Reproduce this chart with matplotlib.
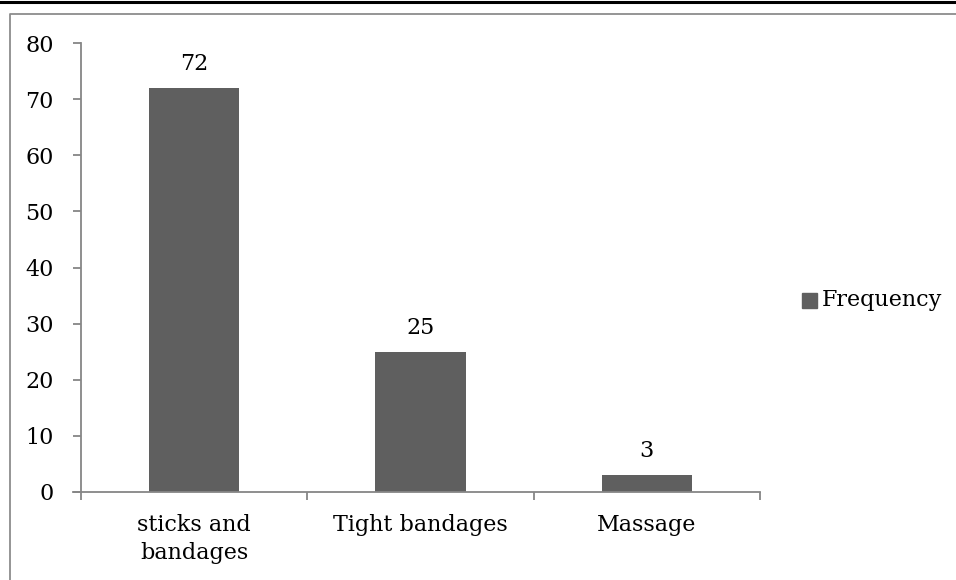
import matplotlib
matplotlib.use("Agg")
import matplotlib.pyplot as plt
from matplotlib.patches import Rectangle
from matplotlib.lines import Line2D

categories = ["sticks and\nbandages", "Tight bandages", "Massage"]
frequency = [72, 25, 3]
y_ticks = [0, 10, 20, 30, 40, 50, 60, 70, 80]
series_name = "Frequency"

bar_color = "#5f5f5f"
axis_color = "#868686"
font = ["DejaVu Serif"]
plt.rcParams["font.family"] = font
fs = 16

W, H = 956, 580
fig = plt.figure(figsize=(W / 100, H / 100), dpi=100)

# outer frame: thick black rule at top, thin grey chart-area border
fig.add_artist(Line2D([0, 1], [1 - 1.5 / H, 1 - 1.5 / H], transform=fig.transFigure,
                      color="black", lw=2.2))
fig.add_artist(Line2D([10 / W, 10 / W, 1], [0, 1 - 14 / H, 1 - 14 / H],
                      transform=fig.transFigure, color="#8c8c8c", lw=1.3))

x0, x1 = 81, 760
y0, y1 = 43, 492
ax = fig.add_axes([x0 / W, 1 - y1 / H, (x1 - x0) / W, (y1 - y0) / H])

positions = list(range(len(categories)))
ax.bar(positions, frequency, width=0.4, color=bar_color, zorder=2)
ax.set_xlim(-0.5, len(categories) - 0.5)
ax.set_ylim(0, 80)

for sp in ["top", "right"]:
    ax.spines[sp].set_visible(False)
for sp in ["left", "bottom"]:
    ax.spines[sp].set_color(axis_color)
    ax.spines[sp].set_linewidth(1.3)

ax.set_yticks(y_ticks)
ax.set_yticklabels([str(v) for v in y_ticks], fontsize=fs)
ax.tick_params(axis="y", length=5.5, width=1.3, color=axis_color, pad=14)

# category boundaries carry the x ticks; labels sit under the bar centres
ax.set_xticks([p - 0.5 for p in positions] + [positions[-1] + 0.5])
ax.set_xticklabels([])
ax.tick_params(axis="x", length=5.5, width=1.3, color=axis_color)
for p, name in zip(positions, categories):
    ax.annotate(name, xy=(p, 0), xycoords=("data", "axes fraction"),
                xytext=(0, -16), textcoords="offset points", ha="center", va="top",
                fontsize=fs, linespacing=1.35)

# x axis line extends slightly to the left of the y axis
ax.add_line(Line2D([-0.5 - 8 / 226.3, -0.5], [0, 0], color=axis_color, lw=1.3,
                   clip_on=False, zorder=3))

for p, v in zip(positions, frequency):
    ax.annotate(str(v), xy=(p, v), xytext=(0, 13), textcoords="offset points",
                ha="center", va="baseline", fontsize=fs)

# legend
fig.add_artist(Rectangle((802 / W, 1 - 308 / H), 15 / W, 15 / H,
                         transform=fig.transFigure, color=bar_color))
fig.text(822 / W, 1 - 300 / H, series_name, fontsize=fs, va="center", ha="left")

fig.savefig("out.png", dpi=100)
